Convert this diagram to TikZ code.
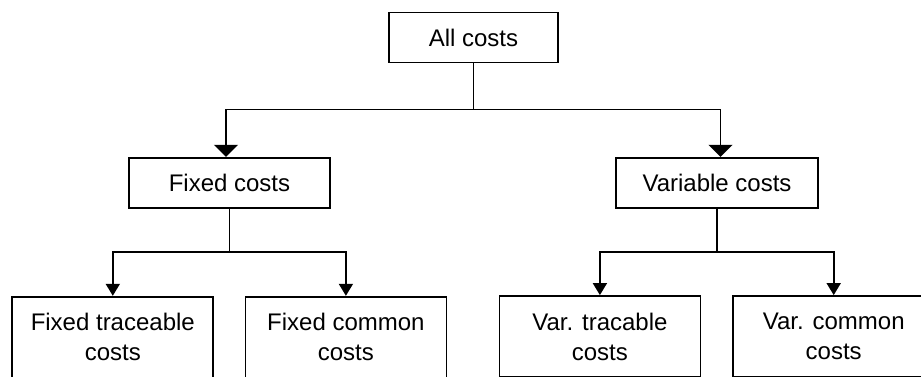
\documentclass[tikz,border=0pt]{standalone}
\usepackage{fontspec}
\setmainfont{Liberation Sans}
\usetikzlibrary{arrows.meta}
\begin{document}
\begin{tikzpicture}[x=1pt,y=-1pt,
  box/.style={draw,line width=1.8pt,rectangle,inner sep=0pt,align=center,
    font=\fontsize{24}{30}\selectfont},
  topbox/.style={box,minimum height=50pt},
  lowbox/.style={box,minimum height=81pt,minimum width=201pt},
  conn/.style={line width=1.8pt},
  bigarrow/.style={conn,-{Triangle[width=24pt,length=12pt]}},
  smallarrow/.style={conn,-{Triangle[width=14pt,length=12pt]}}]
\useasboundingbox (0,0) rectangle (921,376);
\clip (0,0) rectangle (921,376);
\node[topbox,minimum width=169pt] (all) at (473.5,37.5) {All costs};
\node[topbox,minimum width=201pt] (fixed) at (229.5,182.7) {Fixed costs};
\node[topbox,minimum width=202pt] (var) at (717,182.7) {Variable costs};
\node[lowbox] (ft) at (112.8,337.2) {Fixed traceable\\costs};
\node[lowbox] (fc) at (345.9,337.2) {Fixed common\\costs};
\node[lowbox] (vt) at (599.9,336.5) {Var. tracable\\costs};
\node[lowbox] (vc) at (833.7,336.5) {Var. common\\costs};
\coordinate (j1) at (all.south |- 0,109.5);
\coordinate (j2) at (fixed.south |- 0,251.7);
\coordinate (j3) at (var.south |- 0,251.7);
\draw[conn] (all.south) -- (j1);
\draw[bigarrow] (j1) -| ([xshift=-3.5pt]fixed.north);
\draw[bigarrow] (j1) -| ([xshift=3.5pt]var.north);
\draw[conn] (fixed.south) -- (j2);
\draw[smallarrow] (j2) -| (ft.north);
\draw[smallarrow] (j2) -| (fc.north);
\draw[conn] (var.south) -- (j3);
\draw[smallarrow] (j3) -| (vt.north);
\draw[smallarrow] (j3) -| (vc.north);
\end{tikzpicture}
\end{document}
